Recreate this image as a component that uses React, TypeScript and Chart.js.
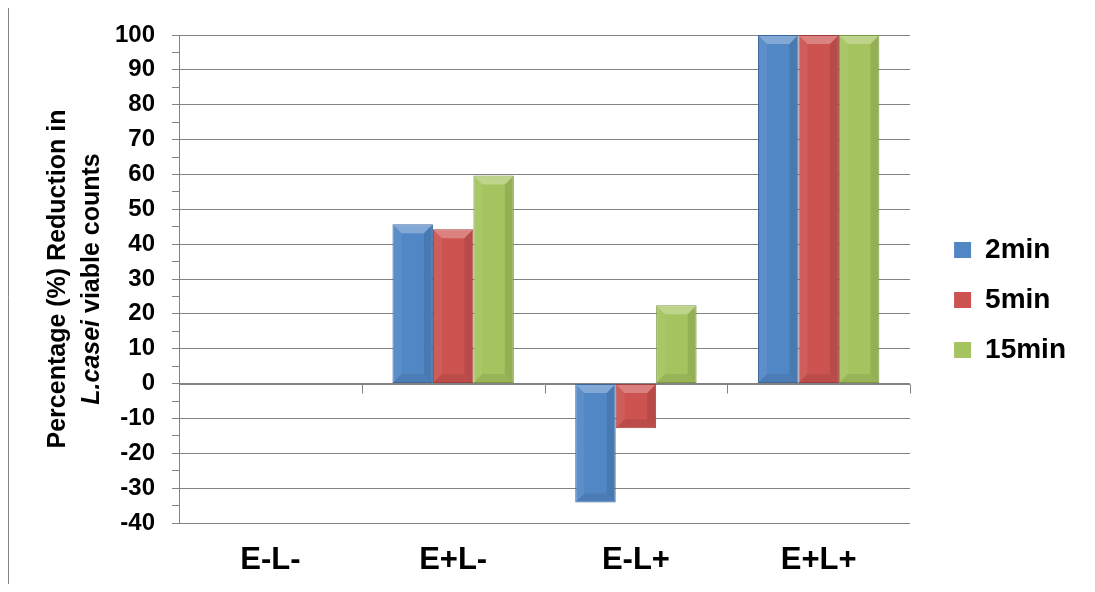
import React, { useEffect, useRef } from "react";
import { Chart, registerables } from "chart.js";

Chart.register(...registerables);

// Treatment groups and the three exposure times
const categories = ["E-L-", "E+L-", "E-L+", "E+L+"];
const seriesNames = ["2min", "5min", "15min"];

// Percentage reduction in L. casei viable counts
const reduction2min = [0, 45.7, -34.1, 100];
const reduction5min = [0, 44.3, -12.8, 100];
const reduction15min = [0, 59.7, 22.5, 100];

const fillColors = ["#5287C6", "#CD5351", "#A5C45F"];
const edgeColors = ["#3D679B", "#9E3F3D", "#7C9A45"];

const yMin = -40;
const yMax = 100;
const yStep = 5;

const titleLine1 = "Percentage (%) Reduction in";
const titleLine2Italic = "L.casei";
const titleLine2Rest = " viable counts";

const FONT = '"Liberation Sans", Arial, sans-serif';
const GRID = "#828282";
const FRAME = "#868686";

const W = 1080;
const H = 577;

// Outer frame of the chart (open at the bottom)
const framePlugin = {
  id: "frame",
  afterDraw(chart: any) {
    const { ctx, width, height } = chart;
    ctx.save();
    ctx.strokeStyle = FRAME;
    ctx.lineWidth = 1;
    ctx.beginPath();
    ctx.moveTo(0.5, height + 2);
    ctx.lineTo(0.5, 0.5);
    ctx.lineTo(width - 0.5, 0.5);
    ctx.lineTo(width - 0.5, height + 2);
    ctx.stroke();
    ctx.restore();
  },
};

// Rotated y-axis title with a mixed italic run
const axisTitlePlugin = {
  id: "axisTitle",
  afterDraw(chart: any) {
    const { ctx, chartArea } = chart;
    const cy = (chartArea.top + chartArea.bottom) / 2;
    const size = 25;
    const bold = `bold ${size}px ${FONT}`;
    const boldItalic = `italic bold ${size}px ${FONT}`;
    ctx.save();
    ctx.fillStyle = "#000";
    ctx.textBaseline = "middle";

    // first line
    ctx.save();
    ctx.translate(chartArea.left - 121, cy);
    ctx.rotate(-Math.PI / 2);
    ctx.font = bold;
    ctx.textAlign = "center";
    ctx.fillText(titleLine1, 0, 0);
    ctx.restore();

    // second line
    ctx.save();
    ctx.translate(chartArea.left - 87, cy);
    ctx.rotate(-Math.PI / 2);
    ctx.textAlign = "left";
    ctx.font = boldItalic;
    const w1 = ctx.measureText(titleLine2Italic).width;
    ctx.font = bold;
    const w2 = ctx.measureText(titleLine2Rest).width;
    const start = -(w1 + w2) / 2;
    ctx.font = boldItalic;
    ctx.fillText(titleLine2Italic, start, 0);
    ctx.font = bold;
    ctx.fillText(titleLine2Rest, start + w1, 0);
    ctx.restore();

    ctx.restore();
  },
};

// Category boundary tick marks hanging from the zero line
const zeroAxisPlugin = {
  id: "zeroAxis",
  beforeDatasetsDraw(chart: any) {
    const { ctx } = chart;
    const xs = chart.scales.x;
    const ys = chart.scales.y;
    const y0 = Math.round(ys.getPixelForValue(0)) + 0.5;
    const n = categories.length;
    const w = (xs.right - xs.left) / n;
    ctx.save();
    ctx.strokeStyle = GRID;
    ctx.lineWidth = 1;
    ctx.beginPath();
    ctx.moveTo(xs.left, y0);
    ctx.lineTo(xs.right, y0);
    for (let k = 0; k <= n; k++) {
      const x = Math.round(xs.left + k * w) + 0.5;
      ctx.moveTo(x, y0);
      ctx.lineTo(x, y0 + 9);
    }
    ctx.stroke();
    ctx.restore();
  },
};

// Bevelled shading on each bar
const bevelPlugin = {
  id: "bevel",
  afterDatasetsDraw(chart: any) {
    const { ctx } = chart;
    chart.data.datasets.forEach((_: any, di: number) => {
      const meta = chart.getDatasetMeta(di);
      meta.data.forEach((el: any) => {
        const p = el.getProps(["x", "y", "base", "width"], true);
        const x0 = p.x - p.width / 2 + 1;
        const x1 = p.x + p.width / 2 - 1;
        const y0 = Math.min(p.y, p.base) + 1;
        const y1 = Math.max(p.y, p.base) - 1;
        const h = y1 - y0;
        if (h < 2) return;
        const b = Math.min(8, h / 2, (x1 - x0) / 2);
        const poly = (pts: number[][], color: string) => {
          ctx.beginPath();
          ctx.moveTo(pts[0][0], pts[0][1]);
          for (let i = 1; i < pts.length; i++) ctx.lineTo(pts[i][0], pts[i][1]);
          ctx.closePath();
          ctx.fillStyle = color;
          ctx.fill();
        };
        ctx.save();
        poly([[x0, y0], [x1, y0], [x1 - b, y0 + b], [x0 + b, y0 + b]], "rgba(255,255,255,0.28)");
        poly([[x0, y1], [x1, y1], [x1 - b, y1 - b], [x0 + b, y1 - b]], "rgba(0,0,0,0.08)");
        poly([[x0, y0], [x0 + b, y0 + b], [x0 + b, y1 - b], [x0, y1]], "rgba(255,255,255,0.06)");
        poly([[x1, y0], [x1 - b, y0 + b], [x1 - b, y1 - b], [x1, y1]], "rgba(0,0,0,0.10)");
        ctx.restore();
      });
    });
  },
};

export default function App() {
  const canvasRef = useRef<HTMLCanvasElement | null>(null);

  useEffect(() => {
    if (!canvasRef.current) return;
    Chart.defaults.color = "#000";
    const seriesValues = [reduction2min, reduction5min, reduction15min];
    const chart = new Chart(canvasRef.current, {
      type: "bar",
      data: {
        labels: categories,
        datasets: seriesNames.map((name, i) => ({
          label: name,
          data: seriesValues[i],
          backgroundColor: fillColors[i],
          borderColor: edgeColors[i],
          borderWidth: (c: any) => (c.raw === 0 ? 0 : 1),
          borderSkipped: false,
          categoryPercentage: 0.664,
          barPercentage: 1.0,
          yAxisID: "y",
        })),
      },
      options: {
        responsive: false,
        animation: false,
        devicePixelRatio: 1,
        layout: { padding: { top: 28, bottom: 0, right: 12, left: 0 } },
        plugins: {
          title: { display: false },
          tooltip: { enabled: false },
          legend: {
            position: "right",
            fullSize: false,
            title: {
              display: true,
              text: " ",
              padding: 15,
              font: { family: FONT, size: 10 },
            },
            labels: {
              color: "#000",
              boxWidth: 17,
              boxHeight: 16,
              padding: 22,
              font: { family: FONT, size: 28, weight: "bold" },
            },
          },
        },
        scales: {
          x: {
            type: "category",
            grid: { display: false, drawTicks: false },
            border: { display: false },
            ticks: {
              color: "#000",
              padding: 19,
              font: { family: FONT, size: 31, weight: "bold" },
            },
            afterFit: (s: any) => {
              s.height = 61;
            },
          },
          y: {
            type: "linear",
            position: "left",
            min: yMin,
            max: yMax,
            grid: {
              color: (c: any) =>
                c.tick && c.tick.value % 10 === 0 ? GRID : "rgba(0,0,0,0)",
              tickColor: GRID,
              tickLength: 7,
              lineWidth: 1,
            },
            border: { display: true, color: GRID, width: 1 },
            ticks: {
              stepSize: yStep,
              autoSkip: false,
              color: "#000",
              padding: 17,
              font: { family: FONT, size: 24, weight: "bold", lineHeight: 0.8 },
              callback: (v: any) => (Number(v) % 10 === 0 ? String(v) : ""),
            },
            afterFit: (s: any) => {
              s.width = 171;
            },
          },
          gap: {
            type: "linear",
            position: "right",
            display: true,
            grid: { display: false, drawTicks: false },
            border: { display: false },
            ticks: { display: false },
            afterFit: (s: any) => {
              s.width = 22;
            },
          },
        },
      },
      plugins: [zeroAxisPlugin, bevelPlugin, axisTitlePlugin, framePlugin],
    } as any);
    return () => chart.destroy();
  }, []);

  return (
    <div style={{ width: W, height: H, marginTop: -1, background: "#fff" }}>
      <canvas ref={canvasRef} width={W} height={H} style={{ display: "block" }} />
    </div>
  );
}
